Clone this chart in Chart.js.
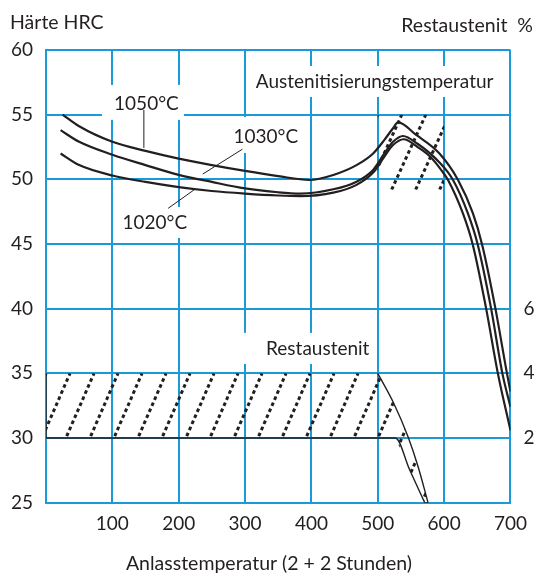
<!DOCTYPE html>
<html><head><meta charset="utf-8">
<script src="https://cdn.jsdelivr.net/npm/chart.js@4.4.1/dist/chart.umd.min.js"></script>
<style>html,body{margin:0;padding:0;background:#fff;}canvas{display:block;}</style>
</head><body>
<canvas id="c" width="537" height="573"></canvas>
<script>
// ---- data ----
const tempTicks = [100, 200, 300, 400, 500, 600, 700];
const hardnessTicks = [25, 30, 35, 40, 45, 50, 55, 60];
const restTicks = [2, 4, 6];

const t1050 = [25, 50, 100, 150, 200, 250, 300, 350, 397, 433, 468, 493, 510, 523, 530.5, 558, 593, 621, 643.3, 657.4, 677, 694.7, 700];
const h1050 = [55, 54.1, 52.9, 52.2, 51.6, 51.1, 50.65, 50.25, 49.95, 50.34, 51.1, 52.0, 53.05, 53.95, 54.4, 53.43, 52.0, 49.95, 47.38, 44.93, 40.1, 35, 33.6];

const t1030 = [22, 50, 100, 150, 200, 250, 300, 350, 383, 433, 468, 493, 510, 523, 538, 560, 593, 613.4, 635.7, 650.8, 670.5, 687.8, 700];
const h1030 = [53.8, 52.9, 51.9, 51.1, 50.35, 49.8, 49.3, 49.0, 48.9, 49.23, 49.82, 50.73, 52.0, 52.9, 53.35, 52.75, 51.3, 49.95, 47.38, 44.93, 40.1, 35, 32.4];

const t1020 = [22, 50, 100, 150, 200, 250, 300, 350, 383, 433, 468, 493, 510, 523, 539, 560, 578, 596, 605.9, 628.2, 643.3, 663, 681, 700];
const h1020 = [52, 51.1, 50.3, 49.8, 49.4, 49.1, 48.9, 48.75, 48.7, 48.97, 49.57, 50.52, 51.76, 52.65, 53.1, 52.5, 51.8, 50.7, 49.95, 47.38, 44.93, 40.1, 35, 30.6];

// retained austenite band (in hardness-axis units; 30 = 2 %, 35 = 4 %)
const restUpperT = [0, 500, 523, 545.6, 560.7, 575.8];
const restUpperH = [35, 35, 32.8, 30.1, 27.8, 25];
const restLowerT = [0, 526.6, 548, 570.8];
const restLowerH = [30, 30, 27.55, 25];

// hatched zone near secondary hardness peak
const peakZoneT = [500, 600];
const peakZoneH = [49.2, 55];

// ---- annotation layout ----
const INK = '#231f20';
const GRID = '#1a9ad6';
const FONT = 'Lato, "Open Sans", sans-serif';

const labels = [
  {text: 'Austenitisierungstemperatur', t: 495.3, h: 57.53, box: [307, 683, 58.76, 56.37]},
  {text: '1050°C', t: 151.3, h: 55.83, box: [84.3, 207.8, 57.3, 54.6]},
  {text: '1030°C', t: 331.2, h: 53.28, box: [274, 385.4, 54.82, 52.04]},
  {text: '1020°C', t: 164, h: 46.63, box: [108.4, 219.8, 47.87, 45.47]},
  {text: 'Restaustenit', t: 409.5, h: 36.9, box: [286, 494, 38.13, 35.73]}
];
const leaders = [
  [147.5, 55.36, 147.5, 52.43],
  [296, 52.33, 236.3, 50.41],
  [224.3, 49.23, 184.1, 47.76]
];

function pts(ts, hs) { return ts.map((t, i) => ({x: t, y: hs[i]})); }

function hatch(ctx, area, spacing, slope) {
  ctx.lineWidth = 3;
  ctx.lineCap = 'butt';
  ctx.strokeStyle = INK;
  ctx.setLineDash([3.6, 3]);
  const H = area.bottom - area.top;
  for (let x0 = area.left - H / slope - spacing * 2; x0 < area.right + spacing; x0 += spacing) {
    ctx.beginPath();
    ctx.moveTo(x0, area.bottom);
    ctx.lineTo(x0 + H / slope, area.top);
    ctx.stroke();
  }
  ctx.setLineDash([]);
}

const decor = {
  id: 'decor',
  beforeDatasetsDraw(chart) {
    const {ctx, scales: {x, y}} = chart;
    // white boxes interrupting grid
    ctx.save();
    ctx.fillStyle = '#fff';
    labels.forEach(l => {
      const [t0, t1, h0, h1] = l.box;
      ctx.fillRect(x.getPixelForValue(t0), y.getPixelForValue(h0), x.getPixelForValue(t1) - x.getPixelForValue(t0), y.getPixelForValue(h1) - y.getPixelForValue(h0));
    });
    ctx.restore();

    // band hatch
    ctx.save();
    ctx.beginPath();
    restUpperT.forEach((t, i) => {
      const px = x.getPixelForValue(t), py = y.getPixelForValue(restUpperH[i]);
      i ? ctx.lineTo(px, py) : ctx.moveTo(px, py);
    });
    for (let i = restLowerT.length - 1; i >= 0; i--) ctx.lineTo(x.getPixelForValue(restLowerT[i]), y.getPixelForValue(restLowerH[i]));
    ctx.closePath();
    ctx.clip();
    hatch(ctx, {left: x.getPixelForValue(0), right: x.getPixelForValue(600), top: y.getPixelForValue(35), bottom: y.getPixelForValue(25)}, 24, 2.3);
    ctx.restore();

    // peak hatch
    ctx.save();
    const pl = x.getPixelForValue(peakZoneT[0]), pr = x.getPixelForValue(peakZoneT[1]);
    const pt = y.getPixelForValue(peakZoneH[1]), pb = y.getPixelForValue(peakZoneH[0]);
    ctx.beginPath(); ctx.rect(pl, pt, pr - pl, pb - pt); ctx.clip();
    hatch(ctx, {left: pl, right: pr, top: pt, bottom: pb}, 24, 2.2);
    ctx.restore();
  },
  afterDatasetsDraw(chart) {
    const {ctx, scales: {x, y}} = chart;
    ctx.save();
    ctx.fillStyle = INK;
    ctx.font = '19px ' + FONT;
    ctx.textAlign = 'center';
    ctx.textBaseline = 'middle';
    labels.forEach(l => ctx.fillText(l.text, x.getPixelForValue(l.t), y.getPixelForValue(l.h)));
    ctx.strokeStyle = INK;
    ctx.lineWidth = 1;
    leaders.forEach(s => {
      ctx.beginPath();
      ctx.moveTo(x.getPixelForValue(s[0]), y.getPixelForValue(s[1]));
      ctx.lineTo(x.getPixelForValue(s[2]), y.getPixelForValue(s[3]));
      ctx.stroke();
    });
    // axis titles
    ctx.font = '19.5px ' + FONT;
    ctx.textBaseline = 'alphabetic';
    ctx.textAlign = 'left';
    ctx.fillText('Härte HRC', 10, 29);
    ctx.textAlign = 'right';
    ctx.fillText('Restaustenit  %', 533, 32);
    ctx.textAlign = 'center';
    ctx.fillText('Anlasstemperatur (2 + 2 Stunden)', 269, 570);
    ctx.restore();
  }
};

const curve = (data) => ({
  data, borderColor: INK, borderWidth: 2.2, pointRadius: 0, fill: false,
  cubicInterpolationMode: 'monotone', yAxisID: 'y'
});
const thin = (data) => ({
  data, borderColor: INK, borderWidth: 1.4, pointRadius: 0, fill: false,
  cubicInterpolationMode: 'monotone', yAxisID: 'y'
});

new Chart(document.getElementById('c'), {
  type: 'line',
  data: {
    datasets: [
      curve(pts(t1050, h1050)),
      curve(pts(t1030, h1030)),
      curve(pts(t1020, h1020)),
      thin(pts(restUpperT.slice(1), restUpperH.slice(1))),
      thin(pts(restLowerT, restLowerH)),
      thin([{x: 0, y: 30}, {x: 0, y: 35}]),
      thin(pts([restLowerT[3], restUpperT[5]], [25, 25]))
    ]
  },
  plugins: [decor],
  options: {
    responsive: false,
    animation: false,
    devicePixelRatio: 1,
    layout: {padding: {top: 50, left: 0, right: 0, bottom: 0}},
    plugins: {legend: {display: false}, tooltip: {enabled: false}},
    scales: {
      x: {
        type: 'linear', min: 0, max: 700,
        afterBuildTicks: s => { s.ticks = [0].concat(tempTicks).map(v => ({value: v})); },
        afterFit: s => { s.height = 70.3; },
        grid: {color: GRID, lineWidth: 2, drawTicks: false},
        border: {color: GRID, width: 2},
        ticks: {color: INK, font: {family: FONT, size: 19}, padding: 10, maxRotation: 0,
          callback: v => v === 0 ? '' : String(v)}
      },
      y: {
        type: 'linear', position: 'left', min: 25, max: 60,
        afterBuildTicks: s => { s.ticks = hardnessTicks.map(v => ({value: v})); },
        afterFit: s => { s.width = 46; },
        grid: {color: GRID, lineWidth: 2, drawTicks: false},
        border: {color: GRID, width: 2},
        ticks: {color: INK, font: {family: FONT, size: 19}, padding: 13}
      },
      y2: {
        type: 'linear', position: 'right', min: 0, max: 14,
        afterBuildTicks: s => { s.ticks = restTicks.map(v => ({value: v})); },
        afterFit: s => { s.width = 26; },
        grid: {display: false, drawTicks: false},
        border: {display: false},
        ticks: {color: INK, font: {family: FONT, size: 19}, padding: 13}
      }
    }
  }
});
</script>
</body></html>
